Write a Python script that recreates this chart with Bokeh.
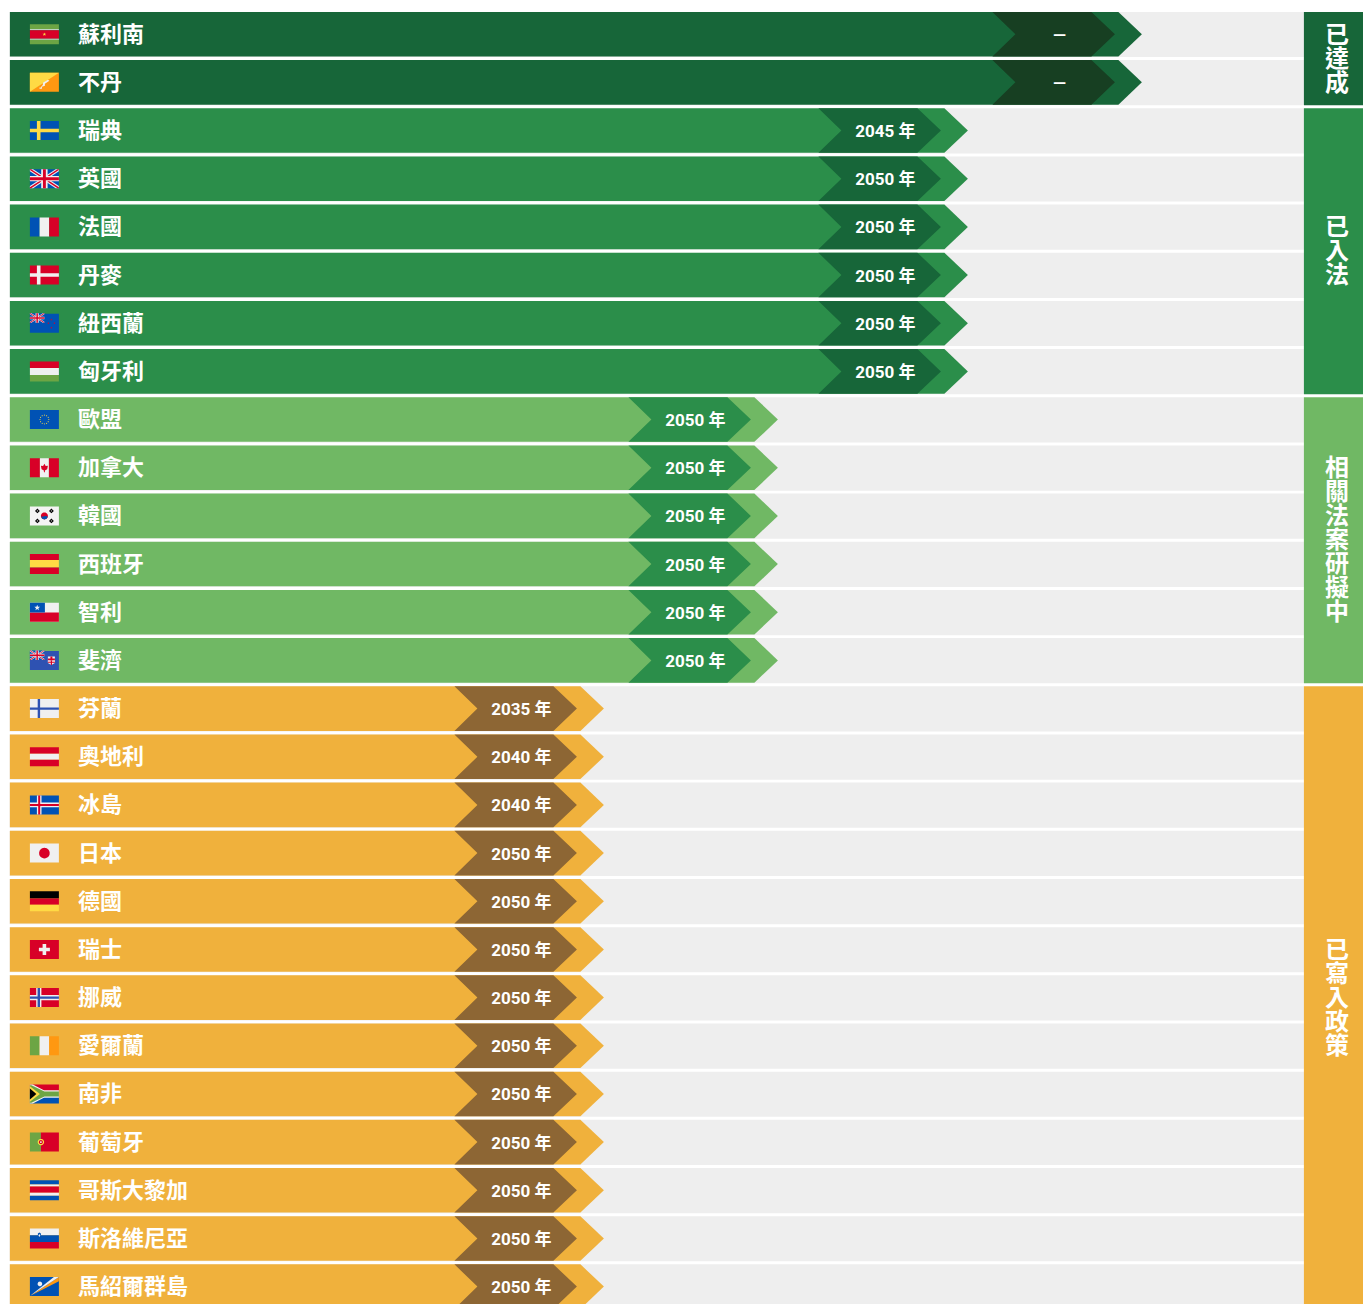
import math
from bokeh.plotting import figure
from bokeh.models import ColumnDataSource, Range1d
from bokeh.core.properties import value
from bokeh.embed import file_html
from bokeh.resources import INLINE

# ---------- data ----------
stages = ["已達成", "已入法", "相關法案研擬中", "已寫入政策"]
stage_reach = [1142, 968, 778, 604]
stage_counts = [2, 6, 6, 13]
countries = ["蘇利南", "不丹", "瑞典", "英國", "法國", "丹麥", "紐西蘭", "匈牙利",
             "歐盟", "加拿大", "韓國", "西班牙", "智利", "斐濟",
             "芬蘭", "奧地利", "冰島", "日本", "德國", "瑞士", "挪威", "愛爾蘭",
             "南非", "葡萄牙", "哥斯大黎加", "斯洛維尼亞", "馬紹爾群島"]
targets = ["—", "—", "2045 年", "2050 年", "2050 年", "2050 年", "2050 年", "2050 年",
           "2050 年", "2050 年", "2050 年", "2050 年", "2050 年", "2050 年",
           "2035 年", "2040 年", "2040 年", "2050 年", "2050 年", "2050 年", "2050 年", "2050 年",
           "2050 年", "2050 年", "2050 年", "2050 年", "2050 年"]
flag_codes = ["sr", "bt", "se", "gb", "fr", "dk", "nz", "hu",
              "eu", "ca", "kr", "es", "cl", "fj",
              "fi", "at", "is", "jp", "de", "ch", "no", "ie",
              "za", "pt", "cr", "si", "mh"]

# ---------- style ----------
BAR = ["#176639", "#2b8e4a", "#70b864", "#f0b13c"]
CHEV = ["#173f22", "#176639", "#2b8e4a", "#8d6634"]
TRACK = "#eeeeee"
FONT = value("Noto Sans CJK TC")
YEAR_FONT = value("Roboto, 'Noto Sans CJK TC'")
TOP, PITCH, BAR_H = 12.0, 48.17, 44.6
LEFT, TRACK_END, TAB_END = 10, 1304, 1363

RED, BLUE, WHITE, YEL, ORG, GRN, BLK, BLU2 = ("#d80027", "#0052b4", "#f0f0f0", "#ffda44",
                                              "#ff9811", "#6da544", "#000000", "#2e52b2")
FW, FH = 29.0, 19.0


def rect(x0, y0, x1, y1, c):
    return ([x0, x1, x1, x0], [y0, y0, y1, y1], c)


def circ(cx, cy, r, c, n=28):
    a = [2 * math.pi * i / n for i in range(n)]
    return ([cx + r * math.cos(t) for t in a], [cy + r * math.sin(t) for t in a], c)


def star(cx, cy, r, c):
    xs, ys = [], []
    for i in range(10):
        rr = r if i % 2 == 0 else r * 0.42
        t = -math.pi / 2 + i * math.pi / 5
        xs.append(cx + rr * math.cos(t))
        ys.append(cy + rr * math.sin(t))
    return (xs, ys, c)


def hbands(colors, stops, w=FW):
    return [rect(0, stops[i], w, stops[i + 1], colors[i]) for i in range(len(colors))]


def vbands(colors, stops, h=FH):
    return [rect(stops[i], 0, stops[i + 1], h, colors[i]) for i in range(len(colors))]


def cross(bg, fg, vx, vw, hy, hw, w=FW, h=FH):
    return [rect(0, 0, w, h, bg), rect(vx, 0, vx + vw, h, fg), rect(0, hy, w, hy + hw, fg)]


def jack(w, h, y0=0.0):
    out = [rect(0, y0, w, y0 + h, BLUE)]
    def diag(a, c):
        ah = a * h / w
        xs1 = [0, a, w, w, w - a, 0]
        ys1 = [y0, y0, y0 + h - ah, y0 + h, y0 + h, y0 + ah]
        xs2 = [w - a, w, w, a, 0, 0]
        ys2 = [y0, y0, y0 + ah, y0 + h, y0 + h, y0 + h - ah]
        out.append((xs1, ys1, c))
        out.append((xs2, ys2, c))
    diag(w * 0.11, WHITE)
    diag(w * 0.045, RED)
    out.append(rect(w * 0.39, y0, w * 0.61, y0 + h, WHITE))
    out.append(rect(0, y0 + h * 0.36, w, y0 + h * 0.64, WHITE))
    out.append(rect(w * 0.45, y0, w * 0.55, y0 + h, RED))
    out.append(rect(0, y0 + h * 0.42, w, y0 + h * 0.58, RED))
    return out


def flag_shapes(code):
    if code == "sr":
        return hbands([GRN, WHITE, RED, WHITE, GRN], [-.5, 4.5, 5.5, 14, 15, 19.5]) + [star(14.5, 9.6, 1.9, YEL)]
    if code == "bt":
        return [rect(0, 0, FW, FH, ORG), ([0, FW, 0], [0, 0, FH], YEL),
                ([9, 10.5, 13, 13, 18, 19.5, 15, 15, 12, 12, 10], [15, 15, 12, 10, 7, 8, 11, 13, 14, 16, 16], WHITE)]
    if code == "se":
        return cross(BLUE, YEL, 7, 3.6, 7.8, 3.4)
    if code == "gb":
        return jack(FW, FH)
    if code == "fr":
        return vbands([BLUE, WHITE, RED], [0, 9.7, 19.3, 29])
    if code == "dk":
        return cross(RED, WHITE, 7, 3.6, 7.8, 3.4)
    if code == "nz":
        return [rect(0, 0, FW, FH, BLUE)] + jack(14.5, 9.5, -0.5) + [
            star(21.5, 6, 1.1, RED), star(24.5, 9.5, 1.1, RED), star(18.5, 9.5, 1.1, RED), star(21.5, 14, 1.1, RED)]
    if code == "hu":
        return hbands([RED, WHITE, GRN], [-.5, 6.2, 13, 19.5])
    if code == "eu":
        s = [rect(0, 0, FW, FH, BLUE)]
        for i in range(12):
            t = i * math.pi / 6
            s.append(circ(14.5 + 4.4 * math.cos(t), 9.5 + 4.4 * math.sin(t), 0.55, YEL, 8))
        return s
    if code == "ca":
        return vbands([RED, WHITE, RED], [0, 10, 19, 29]) + [
            ([14.5, 15.8, 18, 17.3, 15, 15, 14, 14, 11.7, 11, 13.2], [5.5, 7.8, 7.5, 11, 12.2, 14, 14, 12.2, 11, 7.5, 7.8], RED)]
    if code == "kr":
        s = [rect(0, 0, FW, FH, "#f4f4f4"), circ(14.5, 9.5, 3.5, RED),
             ([11.4, 13, 15, 16.5, 17.9, 17, 14.5, 12], [9.5, 10.4, 9.6, 9.8, 10, 12.2, 13, 12.2], BLUE)]
        for cx, cy in [(7.5, 4.5), (21.5, 4.5), (7.5, 14.5), (21.5, 14.5)]:
            s.append(([cx - 2.4, cx, cx + 2.4, cx], [cy, cy - 2.4, cy, cy + 2.4], BLK))
            s.append(([cx - .9, cx, cx + .9, cx], [cy, cy - .9, cy, cy + .9], "#b0b0b0"))
        return s
    if code == "es":
        return hbands([RED, YEL, RED], [-.5, 5.5, 13, 19.5])
    if code == "cl":
        return [rect(0, 0, FW, FH, WHITE), rect(0, 9.7, FW, FH, RED), rect(0, 0, 15, 9.7, BLUE), star(7.3, 5, 3, WHITE)]
    if code == "fj":
        return [rect(0, 0, FW, FH, BLU2)] + jack(14.5, 9.5, -0.5) + [
            rect(18, 5.5, 25, 11, WHITE), rect(20.5, 5.5, 22.5, 13, RED), rect(18, 7.5, 25, 9.5, RED),
            ([18, 25, 25, 21.5, 18], [9.5, 9.5, 12, 14, 12], WHITE), rect(20.9, 9.5, 22.1, 14, RED), rect(18, 10.9, 25, 11.9, RED)]
    if code == "fi":
        return cross(WHITE, BLU2, 7.8, 2.4, 8.3, 2.4)
    if code == "at":
        return hbands([RED, WHITE, RED], [0, 6.5, 12.5, 19])
    if code == "is":
        return cross(BLUE, WHITE, 7, 4.6, 7.2, 4.6) + cross(RED, RED, 8.3, 2, 8.5, 2)[1:]
    if code == "jp":
        return [rect(0, 0, FW, FH, WHITE), circ(14.5, 9.5, 5.3, RED)]
    if code == "de":
        return hbands([BLK, RED, YEL], [-.5, 6.7, 13, 19.5])
    if code == "ch":
        return [rect(0, 0, FW, FH, RED), rect(12.7, 4, 16.3, 15, WHITE), rect(9, 7.7, 20, 11.3, WHITE)]
    if code == "no":
        return cross(RED, WHITE, 6.3, 5.2, 6.9, 5.2) + cross(RED, BLU2, 7.7, 2.4, 8.3, 2.4)[1:]
    if code == "ie":
        return vbands([GRN, WHITE, ORG], [0, 9.7, 19.3, 29])
    if code == "za":
        return [rect(0, 0, FW, 9.5, RED), rect(0, 9.5, FW, FH, BLUE),
                ([0, 3, 14, FW, FW, 14, 3, 0], [0, 0, 5.8, 5.8, 13.2, 13.2, FH, FH], WHITE),
                ([0, 1.5, 14.5, FW, FW, 14.5, 1.5, 0], [0.7, 0.7, 7, 7, 12, 12, 18.3, 18.3], GRN),
                ([0, 10, 0], [1.8, 9.5, 17.2], YEL), ([0, 6.5, 0], [4, 9.5, 15], BLK)]
    if code == "pt":
        return vbands([GRN, RED], [0, 11, 29]) + [circ(11, 9.5, 3.2, YEL), circ(11, 9.5, 2.0, RED), circ(11, 9.5, 0.9, WHITE)]
    if code == "cr":
        return hbands([BLUE, WHITE, RED, WHITE, BLUE], [-.5, 3.7, 5.7, 12, 15, 19.5])
    if code == "si":
        return hbands([WHITE, BLUE, RED], [-.5, 6.2, 13, 19.5]) + [
            ([8, 9.5, 11, 11, 9.5, 8], [4.5, 3.6, 4.5, 7.5, 9, 7.5], BLUE), ([8.5, 9.5, 10.5, 9.5], [6.5, 5, 6.5, 8], WHITE)]
    if code == "mh":
        return [rect(0, 0, FW, FH, BLUE), ([0, FW, FW], [FH, 0, 4.2], ORG), ([0, FW, FW], [FH, 0, 0], WHITE),
                ([0, FW, 24], [FH, 0, 0], WHITE), circ(10, 6.8, 2.3, WHITE)]
    return [rect(0, 0, FW, FH, WHITE)]


# ---------- layout derived from the data ----------
stage_of = [s for s, n in enumerate(stage_counts) for _ in range(n)]
tops = [TOP + i * PITCH for i in range(len(countries))]
mids = [t + BAR_H / 2 for t in tops]

p = figure(width=1363, height=1304, x_range=Range1d(0.6, 1363.6), y_range=Range1d(1304.6, 0.6),
           output_backend="svg", toolbar_location=None, min_border=0, outline_line_color=None,
           background_fill_color="white", border_fill_color="white")
p.axis.visible = False
p.xgrid.visible = False
p.ygrid.visible = False

# row tracks
p.quad(left=LEFT - 0.5, right=TRACK_END, top=tops, bottom=[t + BAR_H + 0.6 for t in tops],
       fill_color=TRACK, line_color=None)

# bars & chevrons
bx, by, bc = [], [], []
for t, s in zip(tops, stage_of):
    T, b, m = stage_reach[s], t + BAR_H, t + BAR_H / 2
    bx.append([LEFT, T - 23.5, T, T - 23.5, LEFT]); by.append([t, t, m, b, b]); bc.append(BAR[s])
    bx.append([T - 149.5, T - 50.5, T - 27, T - 50.5, T - 149.5, T - 126.5]); by.append([t, t, m, b, b, m]); bc.append(CHEV[s])
p.patches(xs=bx, ys=by, fill_color=bc, line_color=None)

# stage tabs
tab_t, tab_b, tab_c = [], [], []
i = 0
for s, n in enumerate(stage_counts):
    tab_t.append(tops[i]); tab_b.append(tops[i + n - 1] + BAR_H + 0.6); tab_c.append(BAR[s])
    i += n
p.quad(left=TRACK_END, right=TAB_END + 1, top=tab_t, bottom=tab_b, fill_color=tab_c, line_color=None)

# flags
fx, fy, fc = [], [], []
for code, m in zip(flag_codes, mids):
    for xs, ys, c in flag_shapes(code):
        fx.append([30 + v for v in xs]); fy.append([m - FH / 2 + v for v in ys]); fc.append(c)
p.patches(xs=fx, ys=fy, fill_color=fc, line_color=None)

# texts
src = ColumnDataSource(dict(name=countries, x=[78] * len(countries), y=[m - 2.5 for m in mids]))
p.text("x", "y", text="name", source=src, text_font=FONT, text_font_size="22px", text_font_style="bold",
       text_color="white", text_baseline="middle", text_align="left")
src2 = ColumnDataSource(dict(t=targets, x=[stage_reach[s] - 82.5 for s in stage_of], y=[m + 0.5 for m in mids]))
p.text("x", "y", text="t", source=src2, text_font=YEAR_FONT, text_font_size="17px", text_font_style="bold",
       text_color="white", text_baseline="middle", text_align="center")

cx, cy, ct = [], [], []
for s, lab in enumerate(stages):
    mid = (tab_t[s] + tab_b[s]) / 2 - 2.5
    for k, ch in enumerate(lab):
        ct.append(ch); cx.append(1337); cy.append(mid + (k - (len(lab) - 1) / 2) * 24)
p.text(cx, cy, text=ct, text_font=FONT, text_font_size="24px", text_font_style="bold",
       text_color="white", text_baseline="middle", text_align="center")

open("out.html", "w").write(file_html(p, INLINE))
